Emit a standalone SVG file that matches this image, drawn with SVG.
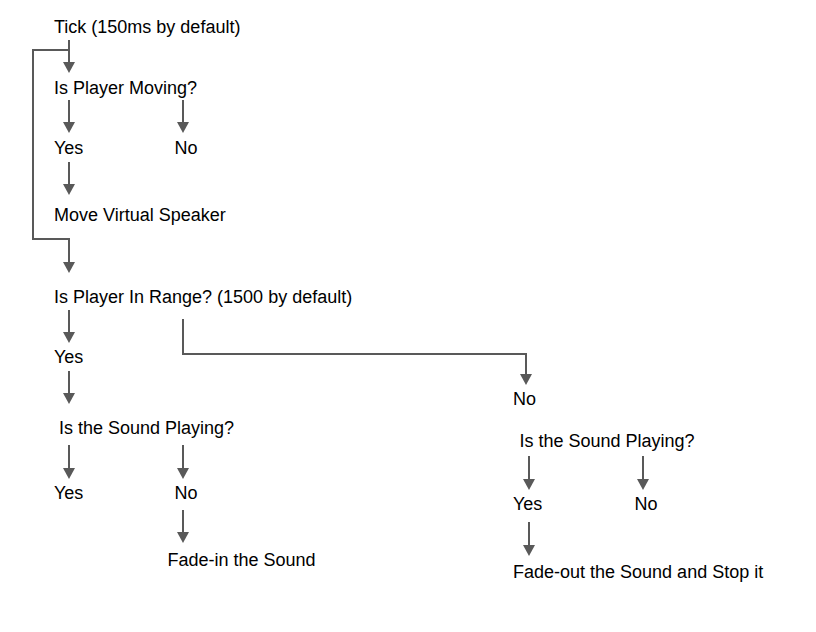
<svg xmlns="http://www.w3.org/2000/svg" width="816" height="632" viewBox="0 0 816 632">
<style>
text{font-family:"Liberation Sans",Arial,sans-serif;font-size:18px;fill:#000}
.c{fill:none;stroke:#595959;stroke-width:2}
</style>
<defs>
<marker id="ah" markerUnits="userSpaceOnUse" markerWidth="12" markerHeight="12" refX="8" refY="6" orient="auto" viewBox="0 0 12 12">
<path d="M0,0 L11,6 L0,12 z" fill="#595959"/>
</marker>
</defs>
<rect width="816" height="632" fill="#fff"/>
<g id="connectors">
<path class="c" d="M69,40 V70" marker-end="url(#ah)"/>
<path class="c" d="M69,50 H33 V239 H69 V270" marker-end="url(#ah)"/>
<path class="c" d="M69,100 V130" marker-end="url(#ah)"/>
<path class="c" d="M183,100 V130" marker-end="url(#ah)"/>
<path class="c" d="M69,162 V192" marker-end="url(#ah)"/>
<path class="c" d="M69,310 V340" marker-end="url(#ah)"/>
<path class="c" d="M69,371 V401" marker-end="url(#ah)"/>
<path class="c" d="M183,319 V354 H526 V382" marker-end="url(#ah)"/>
<path class="c" d="M69,445 V476" marker-end="url(#ah)"/>
<path class="c" d="M183,445 V476" marker-end="url(#ah)"/>
<path class="c" d="M183,510 V540" marker-end="url(#ah)"/>
<path class="c" d="M529,456 V487" marker-end="url(#ah)"/>
<path class="c" d="M643,456 V487" marker-end="url(#ah)"/>
<path class="c" d="M529,522 V553" marker-end="url(#ah)"/>
</g>
<g id="tick"><text x="54" y="33">Tick (150ms by default)</text></g>
<g id="moving"><text x="54" y="94">Is Player Moving?</text></g>
<g id="moving-yes"><text x="54" y="154">Yes</text></g>
<g id="moving-no"><text x="174.5" y="154">No</text></g>
<g id="move-speaker"><text x="54" y="221">Move Virtual Speaker</text></g>
<g id="in-range"><text x="54" y="303">Is Player In Range? (1500 by default)</text></g>
<g id="range-yes"><text x="54" y="363">Yes</text></g>
<g id="range-no"><text x="513" y="405">No</text></g>
<g id="playing-left"><text x="59" y="434">Is the Sound Playing?</text></g>
<g id="playing-left-yes"><text x="54" y="499">Yes</text></g>
<g id="playing-left-no"><text x="174.5" y="499">No</text></g>
<g id="fade-in"><text x="167.5" y="566">Fade-in the Sound</text></g>
<g id="playing-right"><text x="519.5" y="447">Is the Sound Playing?</text></g>
<g id="playing-right-yes"><text x="513" y="510">Yes</text></g>
<g id="playing-right-no"><text x="634.5" y="510">No</text></g>
<g id="fade-out"><text x="513" y="578">Fade-out the Sound and Stop it</text></g>
</svg>
